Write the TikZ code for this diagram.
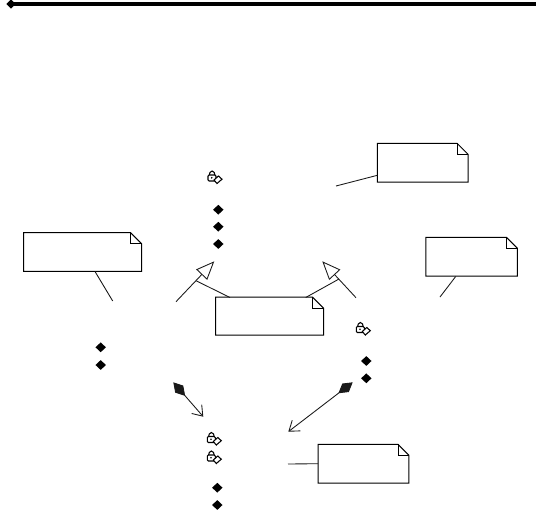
\documentclass[tikz,border=0pt]{standalone}
\usepackage{tikz}
\usetikzlibrary{arrows.meta,shapes.geometric}

\tikzset{
  conn/.style={draw=black!90, line width=0.65pt},
  notebox/.style={inner sep=0pt, outer sep=0pt},
  noteedge/.style={draw=black, line width=0.75pt, line join=miter},
  bullet/.style={diamond, fill=black, inner sep=0pt, minimum width=8pt, minimum height=7.5pt},
  inherit/.style={conn, -{Triangle[open, length=13.8pt, width=11.3pt, line width=0.65pt]}},
  assoc/.style={conn, {Diamond[length=13.5pt, width=8pt]}-{Straight Barb[length=7pt, width=10pt, line width=0.65pt]}},
  pics/lockicon/.style={code={
    \draw[line width=0.8pt] (-5.4,0) arc (180:360:3 and 5);
    \draw[line width=0.8pt, fill=white, rounded corners=0.8pt] (-6.5,-1) rectangle (1.5,5);
    \fill (-2.8,1.8) circle (0.9);
    \draw[line width=0.8pt, fill=white] (-0.5,4) -- (4,0) -- (7.5,3.2) -- (2.5,7.5) -- cycle;
  }}
}

\begin{document}
\begin{tikzpicture}[x=0.75pt, y=-0.75pt]
    \useasboundingbox (0,0) rectangle (536,515);
    % top rule
    \node[diamond, fill=black, inner sep=0pt, minimum width=7pt, minimum height=7pt] (headmark) at (11,4) {};
    \coordinate (ruleend) at (536,4);
    \draw[line width=3pt] (headmark.center) -- (ruleend);

    % notes
    \node[notebox, minimum width=68pt, minimum height=29pt] (notetop) at (422.7,162.7) {};
    \node[notebox, minimum width=68.6pt, minimum height=29pt] (noteright) at (471.7,256.7) {};
    \node[notebox, minimum width=88.5pt, minimum height=29pt] (noteleft) at (82.5,252) {};
    \node[notebox, minimum width=81pt, minimum height=28.5pt] (notemid) at (269.5,316.2) {};
    \node[notebox, minimum width=68.2pt, minimum height=29pt] (notelow) at (363.5,463.7) {};
    \foreach \n in {notetop,noteright,noteleft,notemid,notelow} {
      \draw[noteedge] (\n.north west) -- ([xshift=-8.2pt]\n.north east) -- ([yshift=-8.2pt]\n.north east)
        -- (\n.south east) -- (\n.south west) -- cycle;
      \draw[noteedge] ([xshift=-8.2pt]\n.north east) -- ([xshift=-8.2pt,yshift=-8.2pt]\n.north east)
        -- ([yshift=-8.2pt]\n.north east);
    }

    % bullets
    \node[bullet] (b1) at (218.3,209.7) {};
    \node[bullet] (b2) at (218.3,226.7) {};
    \node[bullet] (b3) at (218.3,244) {};
    \node[bullet] (l1) at (100.7,347.3) {};
    \node[bullet] (l2) at (100.7,365) {};
    \node[bullet] (r1) at (366.3,361) {};
    \node[bullet] (r2) at (366.3,378.3) {};
    \node[bullet] (d1) at (217.3,487.7) {};
    \node[bullet] (d2) at (217.3,505) {};

    % lock icons
    \pic at (214.5,176) {lockicon};
    \pic at (213.8,437.5) {lockicon};
    \pic at (213.8,456) {lockicon};
    \pic at (362.8,327.5) {lockicon};

    % free ends
    \coordinate (topend) at (336,186);
    \coordinate (rightend) at (440,297);
    \coordinate (leftend) at (112.7,301);
    \coordinate (lowend) at (288,464);
    \coordinate (midleft) at (196,280.7);
    \coordinate (midright) at (339,279);
    \coordinate (subleft) at (176,301.7);
    \coordinate (supleft) at (214.3,261.3);
    \coordinate (subright) at (356,297.7);
    \coordinate (supright) at (322.3,261.3);
    \coordinate (aggleft) at (173.3,382.3);
    \coordinate (partleft) at (203.3,416.7);
    \coordinate (aggright) at (352.7,382.3);
    \coordinate (partright) at (288.3,431.7);

    % connectors
    \draw[conn] (notetop.west |- 0,175.3) -- (topend);
    \draw[conn] (455.7,276.5) -- (rightend);
    \draw[conn] (95,271.5) -- (leftend);
    \draw[conn] (notelow.west) -- (lowend);
    \draw[conn] (230,297.5) -- (midleft);
    \draw[conn] (305.7,297.5) -- (midright);
    \draw[inherit] (subleft) -- (supleft);
    \draw[inherit] (subright) -- (supright);
    \draw[assoc] (aggleft) -- (partleft);
    \draw[assoc] (aggright) -- (partright);
\end{tikzpicture}
\end{document}
